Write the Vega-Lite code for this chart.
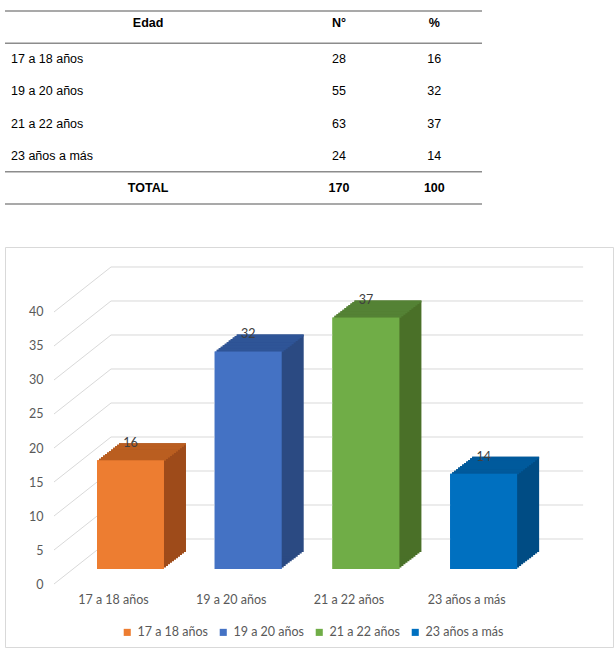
{
  "$schema": "https://vega.github.io/schema/vega-lite/v6.json",
  "padding": {"left": 4, "top": 10, "right": 0, "bottom": 0},
  "background": "white",
  "spacing": 41,
  "datasets": {
    "tabla": [
      {"fila": "17 a 18 años", "n": 28, "pct": 16},
      {"fila": "19 a 20 años", "n": 55, "pct": 32},
      {"fila": "21 a 22 años", "n": 63, "pct": 37},
      {"fila": "23 años a más", "n": 24, "pct": 14},
      {"fila": "TOTAL", "n": 170, "pct": 100}
    ],
    "niveles": [{"v": 0}, {"v": 5}, {"v": 10}, {"v": 15}, {"v": 20}, {"v": 25}, {"v": 30}, {"v": 35}, {"v": 40}]
  },
  "vconcat": [
    {
      "width": 477,
      "height": 193,
      "view": {"stroke": null},
      "layer": [
        {
          "data": {"values": [{"fila": "encabezado"}, {"fila": "17 a 18 años"}, {"fila": "TOTAL"}]},
          "mark": {"type": "rule", "color": "#8c8c8c", "strokeWidth": 1.5},
          "encoding": {
            "y": {"field": "fila", "type": "nominal", "bandPosition": 0,
              "scale": {"type": "band", "domain": ["encabezado", "17 a 18 años", "19 a 20 años", "21 a 22 años", "23 años a más", "TOTAL"], "paddingInner": 0, "paddingOuter": 0},
              "axis": null}
          }
        },
        {
          "data": {"values": [{"fila": "TOTAL"}]},
          "mark": {"type": "rule", "color": "#8c8c8c", "strokeWidth": 1.5},
          "encoding": {"y": {"field": "fila", "type": "nominal", "bandPosition": 1, "axis": null}}
        },
        {
          "data": {"values": [{"col": "Edad"}, {"col": "N°"}, {"col": "%"}]},
          "mark": {"type": "text", "font": "Liberation Sans", "fontSize": 12.5, "fontWeight": "bold", "color": "#000000", "yOffset": -4},
          "encoding": {
            "x": {"field": "col", "type": "nominal", "scale": {"type": "band", "domain": ["izq", "Edad", "medio", "N°", "%"], "paddingInner": 0, "paddingOuter": 0}, "axis": null},
            "y": {"datum": "encabezado", "type": "nominal", "axis": null},
            "text": {"field": "col"}
          }
        },
        {
          "data": {"name": "tabla"},
          "transform": [{"filter": "datum.fila !== 'TOTAL'"}],
          "mark": {"type": "text", "font": "Liberation Sans", "fontSize": 12.5, "align": "left", "dx": 6, "color": "#000000"},
          "encoding": {
            "x": {"datum": "izq", "type": "nominal", "bandPosition": 0, "axis": null},
            "y": {"field": "fila", "type": "nominal", "axis": null},
            "text": {"field": "fila"}
          }
        },
        {
          "data": {"name": "tabla"},
          "transform": [{"filter": "datum.fila !== 'TOTAL'"}],
          "mark": {"type": "text", "font": "Liberation Sans", "fontSize": 12.5, "color": "#000000"},
          "encoding": {
            "x": {"datum": "N°", "type": "nominal", "axis": null},
            "y": {"field": "fila", "type": "nominal", "axis": null},
            "text": {"field": "n"}
          }
        },
        {
          "data": {"name": "tabla"},
          "transform": [{"filter": "datum.fila !== 'TOTAL'"}],
          "mark": {"type": "text", "font": "Liberation Sans", "fontSize": 12.5, "color": "#000000"},
          "encoding": {
            "x": {"datum": "%", "type": "nominal", "axis": null},
            "y": {"field": "fila", "type": "nominal", "axis": null},
            "text": {"field": "pct"}
          }
        },
        {
          "data": {"name": "tabla"},
          "transform": [{"filter": "datum.fila === 'TOTAL'"}],
          "mark": {"type": "text", "font": "Liberation Sans", "fontSize": 12.5, "fontWeight": "bold", "color": "#000000"},
          "encoding": {
            "x": {"datum": "Edad", "type": "nominal", "axis": null},
            "y": {"field": "fila", "type": "nominal", "axis": null},
            "text": {"field": "fila"}
          }
        },
        {
          "data": {"name": "tabla"},
          "transform": [{"filter": "datum.fila === 'TOTAL'"}],
          "mark": {"type": "text", "font": "Liberation Sans", "fontSize": 12.5, "fontWeight": "bold", "color": "#000000"},
          "encoding": {
            "x": {"datum": "N°", "type": "nominal", "axis": null},
            "y": {"field": "fila", "type": "nominal", "axis": null},
            "text": {"field": "n"}
          }
        },
        {
          "data": {"name": "tabla"},
          "transform": [{"filter": "datum.fila === 'TOTAL'"}],
          "mark": {"type": "text", "font": "Liberation Sans", "fontSize": 12.5, "fontWeight": "bold", "color": "#000000"},
          "encoding": {
            "x": {"datum": "%", "type": "nominal", "axis": null},
            "y": {"field": "fila", "type": "nominal", "axis": null},
            "text": {"field": "pct"}
          }
        }
      ]
    },
    {
      "width": 608,
      "height": 400,
      "view": {"stroke": "#d9d9d9", "strokeWidth": 1},
      "layer": [
        {
          "data": {"name": "tabla"},
          "transform": [{"filter": "datum.fila !== 'TOTAL'"}],
          "mark": {"type": "bar", "xOffset": -38, "x2Offset": -38, "yOffset": 30, "y2Offset": 30},
          "encoding": {
            "x": {"field": "fila", "type": "nominal",
              "scale": {"type": "band", "domain": ["17 a 18 años", "19 a 20 años", "21 a 22 años", "23 años a más"], "paddingInner": 0.431, "paddingOuter": 0.798, "align": 0.692},
              "axis": {"title": null, "domain": false, "ticks": false, "tickSize": 0, "labelAngle": 0, "offset": -63, "labelPadding": 9, "labelOffset": -55, "labelFont": "Lato", "labelFontSize": 12.5, "labelColor": "#595959"}},
            "y": {"field": "pct", "type": "quantitative",
              "scale": {"domain": [-15.88, 42.94], "nice": false, "zero": false},
              "axis": {"values": [0, 5, 10, 15, 20, 25, 30, 35, 40], "title": null, "grid": false, "domain": false, "ticks": false, "tickSize": 0, "offset": -38, "labelPadding": 0, "labelOffset": 45, "labelFont": "Lato", "labelFontSize": 12.5, "labelColor": "#595959"}},
            "color": {"field": "fila", "type": "nominal",
              "scale": {"domain": ["17 a 18 años", "19 a 20 años", "21 a 22 años", "23 años a más"], "range": ["#ED7D31", "#4472C4", "#70AD47", "#0070C0"]},
              "legend": {"orient": "none", "legendX": 116, "legendY": 615, "direction": "horizontal", "columns": 4, "title": null, "symbolType": "square", "symbolSize": 50, "symbolStrokeWidth": 0, "labelFont": "Lato", "labelFontSize": 12.5, "labelColor": "#595959", "columnPadding": 9, "labelOffset": 4}}
          }
        },
        {
          "data": {"name": "niveles"},
          "mark": {"type": "rule", "color": "#d9d9d9", "strokeWidth": 1, "xOffset": -24, "x2Offset": 28},
          "encoding": {
            "y": {"field": "v", "type": "quantitative"},
            "x": {"datum": "17 a 18 años", "type": "nominal", "bandPosition": 0},
            "x2": {"datum": "23 años a más", "bandPosition": 1}
          }
        },
        {
          "data": {"name": "niveles"},
          "mark": {"type": "rule", "color": "#d9d9d9", "strokeWidth": 1, "xOffset": -24, "x2Offset": -81, "y2Offset": 45},
          "encoding": {
            "y": {"field": "v", "type": "quantitative"},
            "y2": {"field": "v"},
            "x": {"datum": "17 a 18 años", "type": "nominal", "bandPosition": 0},
            "x2": {"datum": "17 a 18 años", "bandPosition": 0}
          }
        },
        {
          "data": {"name": "tabla"},
          "transform": [{"filter": "datum.fila !== 'TOTAL'"}],
          "encoding": {
            "x": {"field": "fila", "type": "nominal"},
            "y": {"field": "pct", "type": "quantitative"}
          },
          "layer": [
            {"mark": {"type": "bar", "xOffset": -36, "x2Offset": -36, "yOffset": 28.45, "y2Offset": 28.45}, "encoding": {"fill": {"field": "fila", "type": "nominal", "scale": {"domain": ["17 a 18 años", "19 a 20 años", "21 a 22 años", "23 años a más"], "range": ["#9E4B1A", "#2B4A82", "#4A7028", "#004C84"]}, "legend": null}}},
            {"mark": {"type": "bar", "xOffset": -34, "x2Offset": -34, "yOffset": 26.91, "y2Offset": 26.91}, "encoding": {"fill": {"field": "fila", "type": "nominal", "legend": null}}},
            {"mark": {"type": "bar", "xOffset": -32, "x2Offset": -32, "yOffset": 25.36, "y2Offset": 25.36}, "encoding": {"fill": {"field": "fila", "type": "nominal", "legend": null}}},
            {"mark": {"type": "bar", "xOffset": -30, "x2Offset": -30, "yOffset": 23.82, "y2Offset": 23.82}, "encoding": {"fill": {"field": "fila", "type": "nominal", "legend": null}}},
            {"mark": {"type": "bar", "xOffset": -28, "x2Offset": -28, "yOffset": 22.27, "y2Offset": 22.27}, "encoding": {"fill": {"field": "fila", "type": "nominal", "legend": null}}},
            {"mark": {"type": "bar", "xOffset": -26, "x2Offset": -26, "yOffset": 20.73, "y2Offset": 20.73}, "encoding": {"fill": {"field": "fila", "type": "nominal", "legend": null}}},
            {"mark": {"type": "bar", "xOffset": -24, "x2Offset": -24, "yOffset": 19.18, "y2Offset": 19.18}, "encoding": {"fill": {"field": "fila", "type": "nominal", "legend": null}}},
            {"mark": {"type": "bar", "xOffset": -22, "x2Offset": -22, "yOffset": 17.64, "y2Offset": 17.64}, "encoding": {"fill": {"field": "fila", "type": "nominal", "legend": null}}},
            {"mark": {"type": "bar", "xOffset": -20, "x2Offset": -20, "yOffset": 16.09, "y2Offset": 16.09}, "encoding": {"fill": {"field": "fila", "type": "nominal", "legend": null}}},
            {"mark": {"type": "bar", "xOffset": -18, "x2Offset": -18, "yOffset": 14.55, "y2Offset": 14.55}, "encoding": {"fill": {"field": "fila", "type": "nominal", "legend": null}}},
            {"mark": {"type": "bar", "xOffset": -16, "x2Offset": -16, "yOffset": 13.0, "y2Offset": 13.0}, "encoding": {"fill": {"field": "fila", "type": "nominal", "legend": null}}},
            {"mark": {"type": "rule", "strokeWidth": 2, "xOffset": -36, "x2Offset": -36, "yOffset": 29.45}, "encoding": {"x": {"field": "fila", "type": "nominal", "bandPosition": 0}, "x2": {"field": "fila", "bandPosition": 1}, "stroke": {"field": "fila", "type": "nominal", "scale": {"domain": ["17 a 18 años", "19 a 20 años", "21 a 22 años", "23 años a más"], "range": ["#BA5E20", "#2F5597", "#548235", "#005A9C"]}, "legend": null}}},
            {"mark": {"type": "rule", "strokeWidth": 2, "xOffset": -34, "x2Offset": -34, "yOffset": 27.91}, "encoding": {"x": {"field": "fila", "type": "nominal", "bandPosition": 0}, "x2": {"field": "fila", "bandPosition": 1}, "stroke": {"field": "fila", "type": "nominal", "legend": null}}},
            {"mark": {"type": "rule", "strokeWidth": 2, "xOffset": -32, "x2Offset": -32, "yOffset": 26.36}, "encoding": {"x": {"field": "fila", "type": "nominal", "bandPosition": 0}, "x2": {"field": "fila", "bandPosition": 1}, "stroke": {"field": "fila", "type": "nominal", "legend": null}}},
            {"mark": {"type": "rule", "strokeWidth": 2, "xOffset": -30, "x2Offset": -30, "yOffset": 24.82}, "encoding": {"x": {"field": "fila", "type": "nominal", "bandPosition": 0}, "x2": {"field": "fila", "bandPosition": 1}, "stroke": {"field": "fila", "type": "nominal", "legend": null}}},
            {"mark": {"type": "rule", "strokeWidth": 2, "xOffset": -28, "x2Offset": -28, "yOffset": 23.27}, "encoding": {"x": {"field": "fila", "type": "nominal", "bandPosition": 0}, "x2": {"field": "fila", "bandPosition": 1}, "stroke": {"field": "fila", "type": "nominal", "legend": null}}},
            {"mark": {"type": "rule", "strokeWidth": 2, "xOffset": -26, "x2Offset": -26, "yOffset": 21.73}, "encoding": {"x": {"field": "fila", "type": "nominal", "bandPosition": 0}, "x2": {"field": "fila", "bandPosition": 1}, "stroke": {"field": "fila", "type": "nominal", "legend": null}}},
            {"mark": {"type": "rule", "strokeWidth": 2, "xOffset": -24, "x2Offset": -24, "yOffset": 20.18}, "encoding": {"x": {"field": "fila", "type": "nominal", "bandPosition": 0}, "x2": {"field": "fila", "bandPosition": 1}, "stroke": {"field": "fila", "type": "nominal", "legend": null}}},
            {"mark": {"type": "rule", "strokeWidth": 2, "xOffset": -22, "x2Offset": -22, "yOffset": 18.64}, "encoding": {"x": {"field": "fila", "type": "nominal", "bandPosition": 0}, "x2": {"field": "fila", "bandPosition": 1}, "stroke": {"field": "fila", "type": "nominal", "legend": null}}},
            {"mark": {"type": "rule", "strokeWidth": 2, "xOffset": -20, "x2Offset": -20, "yOffset": 17.09}, "encoding": {"x": {"field": "fila", "type": "nominal", "bandPosition": 0}, "x2": {"field": "fila", "bandPosition": 1}, "stroke": {"field": "fila", "type": "nominal", "legend": null}}},
            {"mark": {"type": "rule", "strokeWidth": 2, "xOffset": -18, "x2Offset": -18, "yOffset": 15.55}, "encoding": {"x": {"field": "fila", "type": "nominal", "bandPosition": 0}, "x2": {"field": "fila", "bandPosition": 1}, "stroke": {"field": "fila", "type": "nominal", "legend": null}}},
            {"mark": {"type": "rule", "strokeWidth": 2, "xOffset": -16, "x2Offset": -16, "yOffset": 14.0}, "encoding": {"x": {"field": "fila", "type": "nominal", "bandPosition": 0}, "x2": {"field": "fila", "bandPosition": 1}, "stroke": {"field": "fila", "type": "nominal", "legend": null}}},
            {"mark": {"type": "bar", "xOffset": -38, "x2Offset": -38, "yOffset": 30, "y2Offset": 30},
              "encoding": {"color": {"field": "fila", "type": "nominal"}}},
            {"mark": {"type": "text", "font": "Lato", "fontSize": 12.5, "color": "#404040", "xOffset": -38, "yOffset": 13},
              "encoding": {"text": {"field": "pct"}}}
          ]
        }
      ]
    }
  ]
}
